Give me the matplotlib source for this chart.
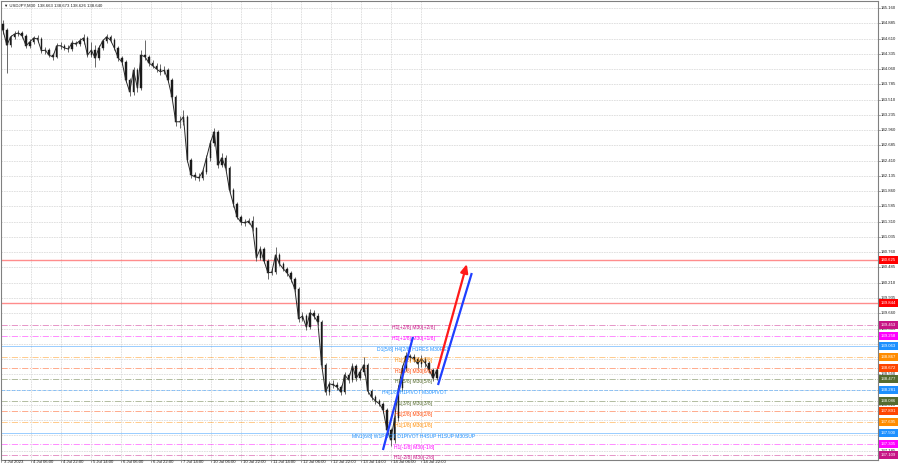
import numpy as np
import matplotlib.pyplot as plt
from matplotlib.transforms import blended_transform_factory

plt.rcParams['font.family'] = ['Liberation Sans', 'DejaVu Sans']

# USDJPY M30 in 2-hour steps
first_open = 144.87
closes = [144.76, 144.49, 144.64, 144.69, 144.71, 144.66, 144.48, 144.55, 144.62, 144.60,
          144.39, 144.40, 144.31, 144.28, 144.48, 144.48, 144.44, 144.42, 144.53, 144.51,
          144.57, 144.62, 144.31, 144.40, 144.26, 144.44, 144.57, 144.64, 144.58, 144.44,
          144.26, 144.19, 143.86, 143.65, 144.04, 143.72, 144.31, 144.28, 144.17, 144.12,
          144.06, 144.01, 144.04, 143.86, 143.56, 143.11, 143.11, 143.20, 142.42, 142.15,
          142.12, 142.10, 142.21, 142.46, 142.73, 142.93, 142.33, 142.46, 142.28, 141.88,
          141.63, 141.39, 141.30, 141.29, 141.32, 141.20, 140.66, 140.82, 140.60, 140.39,
          140.40, 140.71, 140.55, 140.46, 140.39, 140.28, 140.10, 139.56, 139.61, 139.41,
          139.67, 139.61, 139.50, 138.73, 138.24, 138.39, 138.37, 138.33, 138.24, 138.55,
          138.46, 138.71, 138.49, 138.60, 138.73, 138.26, 138.15, 138.08, 138.03, 137.92,
          137.56, 137.38, 137.77, 138.31, 138.67, 138.89, 138.87, 138.84, 138.75, 138.84,
          138.76, 138.64, 138.49, 138.64]
highs = [144.95, 144.80, 144.68, 144.74, 144.76, 144.74, 144.69, 144.60, 144.66, 144.68,
         144.63, 144.45, 144.44, 144.35, 144.53, 144.54, 144.52, 144.49, 144.58, 144.57,
         144.62, 144.69, 144.65, 144.55, 144.49, 144.50, 144.61, 144.69, 144.68, 144.62,
         144.48, 144.30, 144.22, 143.90, 144.10, 144.08, 144.40, 144.58, 144.32, 144.22,
         144.16, 144.15, 144.12, 144.08, 143.90, 143.60, 143.22, 143.32, 143.24, 142.46,
         142.20, 142.18, 142.26, 142.52, 142.78, 142.99, 142.96, 142.55, 142.52, 142.32,
         141.92, 141.66, 141.43, 141.35, 141.38, 141.42, 141.22, 140.88, 140.86, 140.64,
         140.47, 140.85, 140.74, 140.59, 140.50, 140.43, 140.31, 140.13, 139.68, 139.65,
         139.73, 139.72, 139.66, 139.53, 138.77, 138.44, 138.45, 138.42, 138.37, 138.60,
         138.59, 138.76, 138.74, 138.66, 138.88, 138.76, 138.30, 138.19, 138.12, 138.06,
         137.95, 137.60, 137.82, 138.36, 138.72, 138.96, 138.93, 138.92, 138.88, 138.90,
         138.88, 138.80, 138.68, 138.67]
lows = [144.70, 143.99, 144.45, 144.60, 144.65, 144.62, 144.44, 144.44, 144.51, 144.55,
        144.35, 144.34, 144.27, 144.22, 144.25, 144.43, 144.40, 144.37, 144.38, 144.47,
        144.47, 144.52, 144.27, 144.27, 144.10, 144.22, 144.40, 144.53, 144.54, 144.40,
        144.21, 144.14, 143.82, 143.57, 143.60, 143.65, 143.68, 144.22, 144.12, 144.07,
        144.01, 143.96, 143.97, 143.82, 143.50, 143.03, 143.00, 143.05, 142.38, 142.10,
        142.06, 142.04, 142.06, 142.16, 142.41, 142.68, 142.28, 142.29, 142.23, 141.83,
        141.58, 141.35, 141.25, 141.24, 141.26, 141.15, 140.60, 140.62, 140.56, 140.28,
        140.35, 140.36, 140.51, 140.42, 140.34, 140.23, 140.05, 139.50, 139.52, 139.36,
        139.38, 139.56, 139.45, 138.68, 138.18, 138.19, 138.31, 138.27, 138.19, 138.21,
        138.40, 138.42, 138.44, 138.45, 138.55, 138.21, 138.10, 138.03, 137.98, 137.86,
        137.50, 137.27, 137.33, 137.72, 138.26, 138.62, 138.80, 138.78, 138.68, 138.70,
        138.70, 138.59, 138.44, 138.45]

time_labels = ['3 Jul 2023', '4 Jul 06:00', '4 Jul 22:00', '5 Jul 14:00', '6 Jul 06:00',
               '6 Jul 22:00', '7 Jul 14:00', '10 Jul 06:00', '10 Jul 22:00', '11 Jul 14:00',
               '12 Jul 06:00', '12 Jul 22:00', '13 Jul 14:00', '14 Jul 06:00', '14 Jul 22:00']
time_ticks = [-0.4, 7.3, 15.1, 22.9, 30.7, 38.5, 46.4, 54.2, 62.0, 69.8,
              77.6, 85.4, 93.2, 101.0, 108.9]

price_ticks = [145.160, 144.885, 144.610, 144.335, 144.060, 143.785, 143.510, 143.235,
               142.960, 142.685, 142.410, 142.135, 141.860, 141.585, 141.310, 141.035,
               140.760, 140.485, 140.210, 139.935, 139.660, 139.385, 139.110, 138.835,
               138.560, 138.285, 138.010, 137.735, 137.460, 137.185]

levels = [140.625, 139.844, 139.453, 139.258, 139.063, 138.867, 138.672, 138.477,
          138.281, 138.086, 137.891, 137.695, 137.500, 137.305, 137.109]
level_colors = ['#ff0000', '#ff0000', '#c71585', '#ff00ff', '#1e90ff', '#ff8c00', '#ff4500',
                '#556b2f', '#1e90ff', '#556b2f', '#ff4500', '#ff8c00', '#1e90ff', '#ff00ff',
                '#c71585']
level_styles = ['-', '-', '-.', '-.', '-', '-.', '-.', '-.', '--', '-.', '-.', '-.', '-', '-.', '-.']
level_names = ['', '', 'H1[+2/8] M30[+2/8]', 'H1[+1/8] M30[+1/8]',
               'D1[5/8] H4[2/8] H1RES M30RES', 'H1[7/8] M30[7/8]', 'H1[6/8] M30[6/8]',
               'H1[5/8] M30[5/8]', 'H4[1/8] H1PIVOT M30PIVOT', 'H1[3/8] M30[3/8]',
               'H1[2/8] M30[2/8]', 'H1[1/8] M30[1/8]',
               'MN1[6/8] W1PIVOT D1PIVOT H4SUP H1SUP M30SUP', 'H1[-1/8] M30[-1/8]',
               'H1[-2/8] M30[-2/8]']

# drawn trend lines (bar, price)
blue_1 = [(98.96, 137.196), (106.77, 139.232)]
blue_2 = [(113.3, 138.367), (122.1, 140.385)]
red_arrow = [(113.3, 138.673), (120.8, 140.547)]

fig = plt.figure(figsize=(9, 4.68), dpi=100)
ax = fig.add_axes([1/900, 8/468, 877/900, 459/468])
ax.set_xlim(-0.52, 227.9)
ax.set_ylim(137.016, 145.286)
ax.set_xticks([])
ax.set_yticks([])
for s in ax.spines.values():
    s.set_color('#808080')
    s.set_linewidth(0.8)

# grid
for t in time_ticks[1:]:
    ax.axvline(t, color='#dcdcdc', lw=0.6, ls=(0, (2, 1)), zorder=0)
for p in price_ticks:
    ax.axhline(p, color='#dcdcdc', lw=0.6, ls=(0, (2, 1)), zorder=0)

# levels
for p, c, st in zip(levels, level_colors, level_styles):
    if st == '-' and c == '#ff0000':
        ax.axhline(p, color='#ff7070', lw=1.0, ls='-', alpha=0.8, zorder=1)
    else:
        ax.axhline(p, color=c, lw=0.7, ls=st, alpha=0.45, zorder=1)

# candles
idx = np.arange(len(closes))
opens = [first_open] + closes[:-1]
ax.vlines(idx, lows, highs, color='#505050', lw=0.6, zorder=3)
bottoms = np.minimum(opens, closes)
heights = np.abs(np.array(closes) - np.array(opens))
ax.bar(idx, heights, bottom=bottoms, width=0.38, color='#1a1a1a',
       edgecolor='#1a1a1a', lw=0.3, zorder=4)
ax.plot(idx, closes, color='#2a2a2a', lw=0.7, zorder=4)

# level texts
for p, c, name in zip(levels, level_colors, level_names):
    if name:
        ax.annotate(name, (107.0, p), xytext=(0, -2.2), textcoords='offset points',
                    ha='center', va='center', fontsize=3.6, color=c, zorder=6)

# trend lines
for seg in (blue_1, blue_2):
    ax.plot([seg[0][0], seg[1][0]], [seg[0][1], seg[1][1]], color='#1f3fff', lw=1.6,
            solid_capstyle='butt', zorder=7)
ax.annotate('', xy=red_arrow[1], xytext=red_arrow[0],
            arrowprops=dict(arrowstyle='-|>,head_length=0.5,head_width=0.22',
                            color='#ff1a1a', lw=1.6, shrinkA=0, shrinkB=0), zorder=7)

# price scale (labels hidden under a level box are left out)
tr = blended_transform_factory(ax.transAxes, ax.transData)
for p in price_ticks:
    ax.plot([1.0, 1.002], [p, p], transform=tr, color='#808080', lw=0.5, clip_on=False)
    if min(abs(p - l) for l in levels) < 0.045:
        continue
    ax.text(1.0035, p, '%.3f' % p, transform=tr, ha='left', va='center',
            fontsize=3.1, color='#202020', clip_on=False)
for p, c in zip(levels, level_colors):
    ax.text(1.0035, p, '%.3f' % p, transform=tr, ha='left', va='center',
            fontsize=3.1, color='white', clip_on=False, zorder=8,
            bbox=dict(boxstyle='square,pad=0.45', fc=c, ec='none'))

# time scale
for t, lab in zip(time_ticks, time_labels):
    ax.text(t + 0.6, 137.016, lab, ha='left', va='top', fontsize=3.1, color='#202020',
            transform=ax.transData, clip_on=False)
    ax.plot([t, t], [137.016, 136.98], color='#808080', lw=0.5, clip_on=False)

fig.text(4/900, 1 - 6/468, '\u25bc USDJPY,M30  138.663 138.673 138.626 138.640',
         fontsize=3.1, color='#202020', va='center', ha='left',
         family=['Liberation Sans', 'DejaVu Sans'])

fig.savefig('out.png', dpi=100, facecolor='white')
